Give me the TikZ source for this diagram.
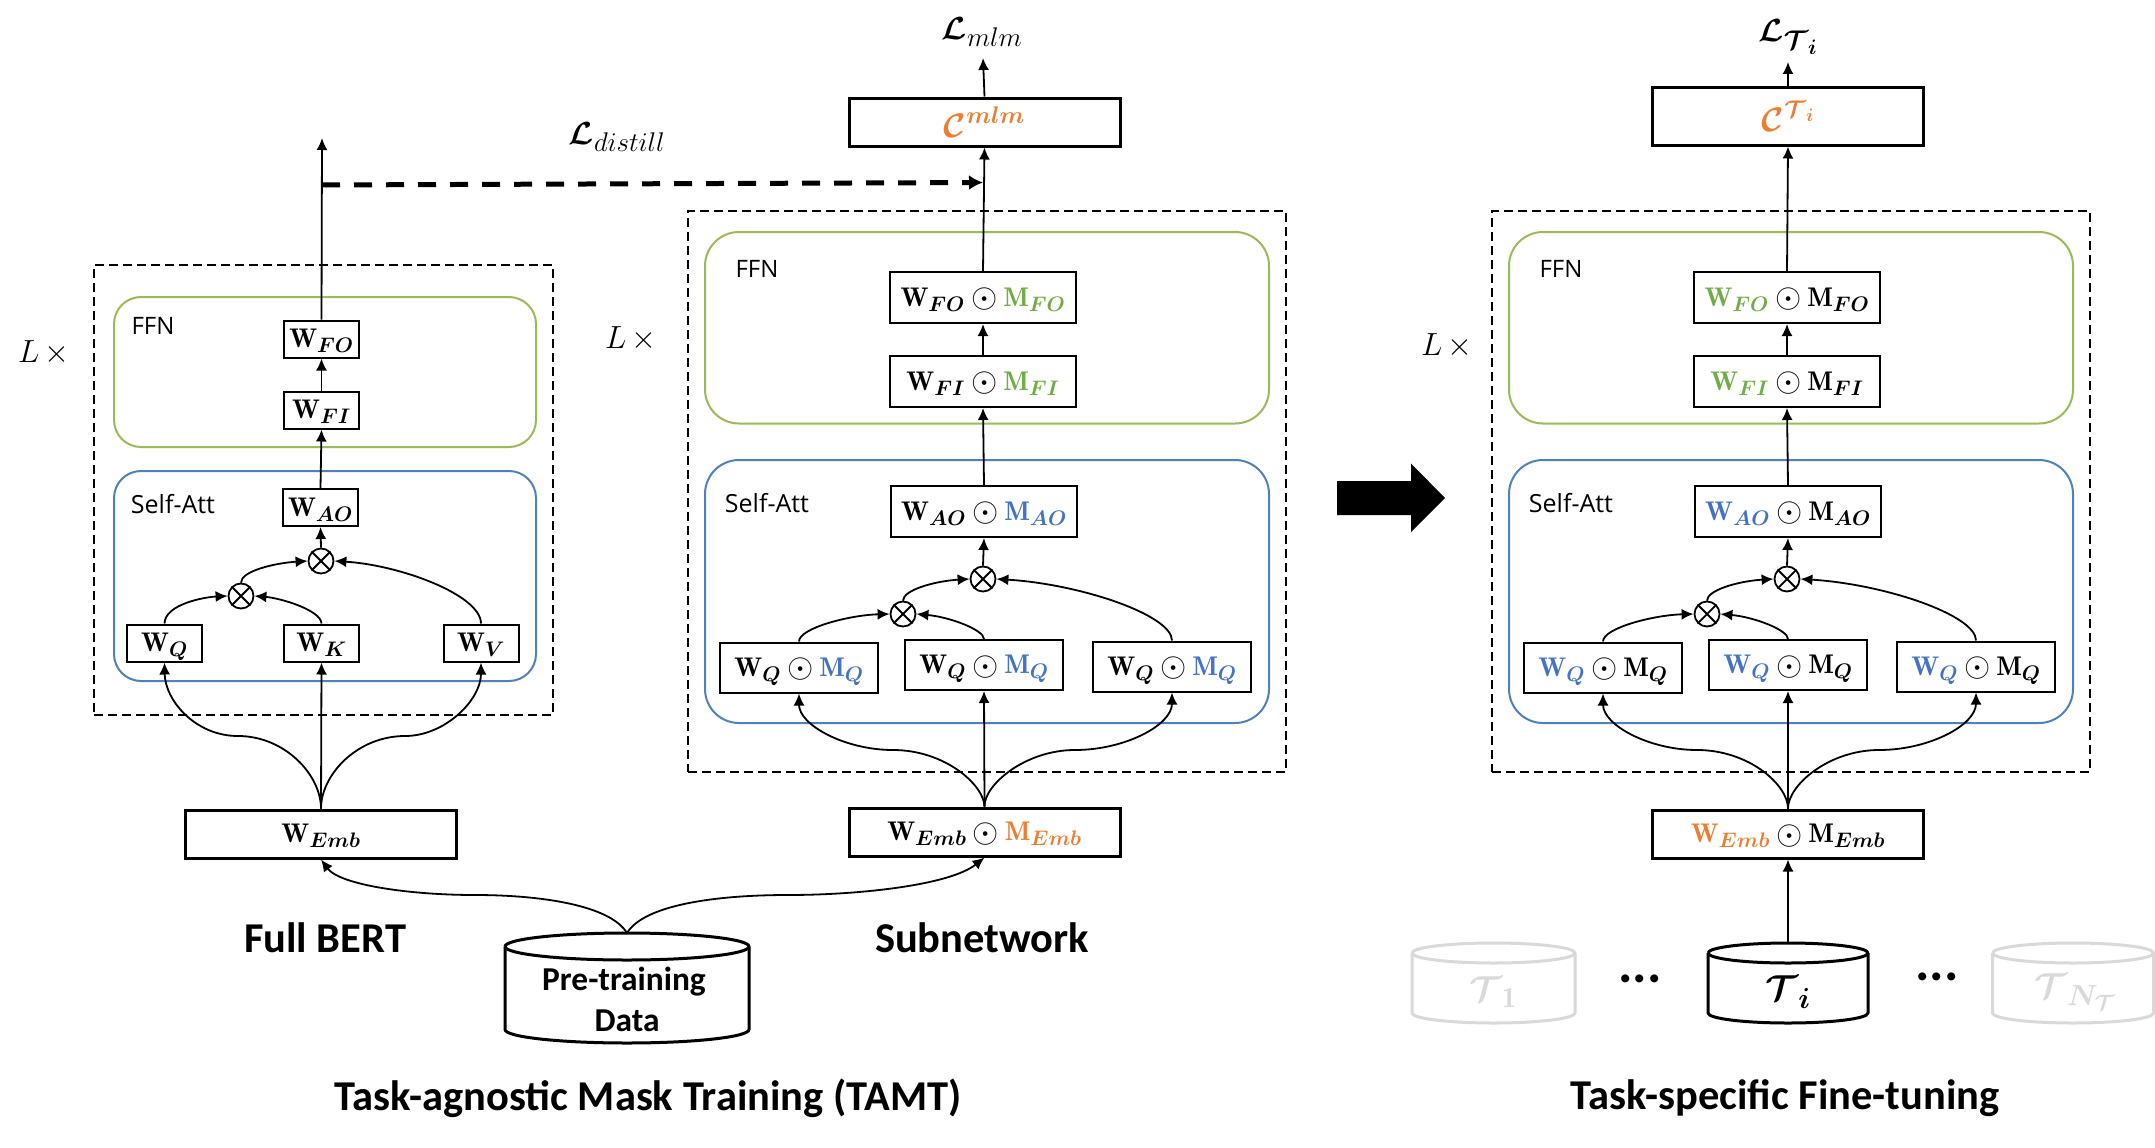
\RequirePackage{fix-cm}
\documentclass[tikz,border=0pt]{standalone}
\usepackage{graphicx}
\usepackage{amsmath,bm}
\usepackage{fontspec}
\usetikzlibrary{arrows.meta}
\newfontfamily\labfont{Open Sans}
\newfontfamily\titlefont{Carlito}[BoldFont={Carlito Bold}]
\DeclareMathSizes{27}{27}{21}{16}
\DeclareMathSizes{34}{34}{24}{18}
\DeclareMathSizes{32}{32}{27}{21}
\DeclareMathSizes{36}{36}{29}{22}
\definecolor{cOr}{HTML}{ED7D31}
\definecolor{cBl}{HTML}{4472C4}
\definecolor{cGr}{HTML}{70AD47}
\definecolor{fGr}{HTML}{9BBB59}
\definecolor{fBl}{HTML}{4F81BD}
\definecolor{cGy}{HTML}{D9D9D9}
\newcommand\fs[1]{\fontsize{#1}{#1}\selectfont}
\newcommand\odt{\mathbin{\vcenter{\hbox{\scalebox{1.25}{$\odot$}}}}}
\newcommand\wmtxt[3]{\raisebox{-8.5pt}[10pt][10pt]{$\textcolor{#1}{\mathbf{W}_{\bm{#3}}}\odt\textcolor{#2}{\mathbf{M}_{\bm{#3}}}$}}
\newcommand\wtxt[1]{\raisebox{-8.5pt}[10pt][10pt]{$\mathbf{W}_{\bm{#1}}$}}
\newcommand\crossout[1]{\draw[thinln] (#1.45) -- (#1.225) (#1.135) -- (#1.315);}
\tikzset{
  thinln/.style={line width=1.8pt,black},
  arr/.style={thinln,-{Latex[length=12pt,width=11pt]}},
  wbox/.style={draw,line width=2pt,inner sep=0pt,font=\fs{27},align=center},
  sbox/.style={wbox,minimum width=75pt,minimum height=37pt},
  mbox/.style={wbox,minimum width=186pt,minimum height=51pt},
  qbox/.style={wbox,minimum width=158pt,minimum height=50pt},
  bigbox/.style={wbox,line width=3pt,minimum width=271pt},
  ttlbox/.style={bigbox,font=\fs{34}},
  outer/.style={draw,line width=1.8pt,dash pattern=on 9pt off 5pt,inner sep=0pt},
  ffn/.style={draw=fGr,line width=2pt,rounded corners=34pt,inner sep=0pt},
  att/.style={draw=fBl,line width=2pt,rounded corners=34pt,inner sep=0pt},
  otim/.style={circle,draw,line width=1.8pt,minimum size=25pt,inner sep=0pt},
  lab/.style={font=\labfont\fs{24},inner sep=0pt},
  lab2/.style={font=\labfont\fs{25},inner sep=0pt},
  ttl/.style={font=\titlefont\bfseries\fs{42.5},inner sep=0pt},
  ttls/.style={font=\titlefont\bfseries\fs{33.4},inner sep=0pt},
  lx/.style={font=\fs{32},inner sep=0pt},
  lss/.style={font=\fs{32},inner sep=0pt},
  dots/.style={font=\titlefont\bfseries\fs{54},inner sep=0pt},
  dist/.style={line width=5pt,dash pattern=on 18pt off 14pt,-{Latex[length=14pt,width=15pt]}},
  fat/.style={fill=black,draw=none},
  cyl/.style={line width=#1,line join=round},
}
\newcommand\cylinder[6]{% cx, top, bottom, rx, ry, style
  \draw[#6] (#1-#4,#2+#5) arc[start angle=180,end angle=-180,x radius=#4,y radius=#5];
  \draw[#6] (#1-#4,#2+#5) -- (#1-#4,#3-#5) arc[start angle=180,end angle=360,x radius=#4,y radius=-#5] -- (#1+#4,#2+#5);
}
% panel: prefix, shift, Wgreen, Mgreen, Wblue, Mblue
\newcommand\panel[6]{%
\begin{scope}[xshift=#2pt]
  \node[outer,minimum width=598pt,minimum height=561pt] (#1out) at (987,491.5) {};
  \node[ffn,minimum width=564pt,minimum height=191.5pt] (#1ffn) at (987,327.75) {};
  \node[att,minimum width=564pt,minimum height=263pt] (#1att) at (987,591.5) {};
  \node[lab] at (757,269) {FFN};
  \node[lab2] at (767,503) {Self-Att};
  \node[mbox] (#1fo) at (983,297.5) {\wmtxt{#3}{#4}{FO}};
  \node[mbox] (#1fi) at (983,381.5) {\wmtxt{#3}{#4}{FI}};
  \node[mbox] (#1ao) at (984,511.5) {\wmtxt{#5}{#6}{AO}};
  \node[otim] (#1ota) at (983,579) {};
  \node[otim] (#1otb) at (903,614) {};
  \crossout{#1ota}\crossout{#1otb}
  \node[qbox] (#1qa) at (799,667.5) {\wmtxt{#5}{#6}{Q}};
  \node[qbox] (#1qb) at (984,665) {\wmtxt{#5}{#6}{Q}};
  \node[qbox] (#1qc) at (1172,666.5) {\wmtxt{#5}{#6}{Q}};
  \coordinate (#1sa) at (893,750);
  \coordinate (#1sc) at (1075,750);
  \draw[arr] (#1fi.north) -- (#1fo.south);
  \draw[arr] (#1ao.north) -- (#1fi.south);
  \draw[arr] (#1ota.north) -- (#1ao.south);
  \draw[arr] (#1qa.north) .. controls (799,628) and (850,615) .. (#1otb.west);
  \draw[arr] (#1qb.north) .. controls (984,630) and (950,617) .. (#1otb.east);
  \draw[arr] (#1otb.north) .. controls (903,590) and (935,581) .. (#1ota.west);
  \draw[arr] (#1qc.north) .. controls (1172,615) and (1080,584) .. (#1ota.east);
  \draw[arr] (#1emb.north) .. controls (984,785) and (945,750) .. (#1sa) .. controls (845,750) and (799,725) .. (#1qa.south);
  \draw[arr] (#1emb.north) -- (#1qb.south);
  \draw[arr] (#1emb.north) .. controls (984,785) and (1025,750) .. (#1sc) .. controls (1125,750) and (1172,725) .. (#1qc.south);
\end{scope}}
\begin{document}
\begin{tikzpicture}[x=1pt,y=-1pt]
\useasboundingbox (0,0) rectangle (2155,1148);
\fill[white] (0,0) rectangle (2155,1148);

% ---- left panel
\node[outer,minimum width=459pt,minimum height=450pt] (lout) at (323.5,490) {};
\node[ffn,rounded corners=27pt,minimum width=422pt,minimum height=150pt] (lffn) at (325,372) {};
\node[att,rounded corners=27pt,minimum width=422pt,minimum height=210pt] (latt) at (325,576) {};
\node[lab] at (153,326) {FFN};
\node[lab2] at (173,504) {Self-Att};
\node[sbox] (lfo) at (321.5,339) {\wtxt{FO}};
\node[sbox] (lfi) at (321.5,410) {\wtxt{FI}};
\node[sbox] (lao) at (320.5,507.5) {\wtxt{AO}};
\node[otim] (lota) at (321,561) {};
\node[otim] (lotb) at (241,596) {};
\crossout{lota}\crossout{lotb}
\node[sbox] (lq) at (164.5,643) {\wtxt{Q}};
\node[sbox] (lk) at (321.5,643) {\wtxt{K}};
\node[sbox] (lv) at (481,643) {\wtxt{V}};
\node[bigbox,minimum height=48pt] (lemb) at (321,834) {\wtxt{Emb}};
\coordinate (ltop) at (322,138);
\coordinate (dashS) at (322,185);
\coordinate (dashE) at (983,182.5);
\coordinate (lsa) at (238,736);
\coordinate (lsc) at (405,736);
\draw[thinln,-{Latex[length=12pt,width=11pt]}] (lfo.north) -- (ltop);
\draw[arr] (lfi.north) -- (lfo.south);
\draw[arr] (lao.north) -- (lfi.south);
\draw[arr] (lota.north) -- (lao.south);
\draw[arr] (lq.north) .. controls (165,604) and (205,597) .. (lotb.west);
\draw[arr] (lk.north) .. controls (321,610) and (280,598) .. (lotb.east);
\draw[arr] (lotb.north) .. controls (241,571) and (275,563) .. (lota.west);
\draw[arr] (lv.north) .. controls (481,595) and (400,565) .. (lota.east);
\draw[arr] (lemb.north) .. controls (321,775) and (285,736) .. (lsa) .. controls (195,736) and (165,700) .. (lq.south);
\draw[arr] (lemb.north) -- (lk.south);
\draw[arr] (lemb.north) .. controls (321,775) and (357,736) .. (lsc) .. controls (445,736) and (481,700) .. (lv.south);

\node[lx] at (44,353) {$L\,{\times}$};
\node[lss] at (617,137) {$\bm{\mathcal{L}}_{distill}$};

% ---- middle panel
\node[bigbox,minimum height=48pt] (memb) at (984.5,832) {\wmtxt{black}{cOr}{Emb}};
\node[ttlbox,minimum height=48pt] (mc) at (984.5,122) {\textcolor{cOr}{$\bm{\mathcal{C}}^{\bm{mlm}}$}};
\panel{m}{0}{black}{cGr}{black}{cBl}
\coordinate (mtop) at (983,58);
\draw[arr] (mc.north) -- (mtop);
\draw[arr] (mfo.north) -- (mc.south);
\draw[dist] (dashS) -- (dashE);
\node[lx] at (631,339) {$L\,{\times}$};
\node[lss] at (982,32) {$\bm{\mathcal{L}}_{mlm}$};

% ---- fat arrow
\fill[fat] (1337,481) -- (1411,481) -- (1411,463.5) -- (1445,498) -- (1411,532) -- (1411,515) -- (1337,515) -- cycle;

% ---- right panel
\node[bigbox,minimum height=48pt] (remb) at (1788,834) {\wmtxt{cOr}{black}{Emb}};
\node[ttlbox,minimum height=58pt] (rc) at (1788,116) {\textcolor{cOr}{$\bm{\mathcal{C}}^{\bm{\mathcal{T}_i}}$}};
\panel{r}{804}{cGr}{black}{cBl}{black}
\coordinate (rtop) at (1788,62);
\draw[arr] (rc.north) -- (rtop);
\draw[arr] (rfo.north) -- (rc.south);
\node[lx] at (1447,346) {$L\,{\times}$};
\node[lss] at (1788,37) {$\bm{\mathcal{L}}_{\bm{\mathcal{T}_i}}$};

% ---- data
\cylinder{627}{933}{1043}{122}{13.5}{cyl=3pt}
\coordinate (pre) at (627,933);
\draw[arr] (pre) .. controls (610,905) and (540,895) .. (475,895) .. controls (410,895) and (340,885) .. (lemb.south);
\draw[arr] (pre) .. controls (644,905) and (715,895) .. (788,895) .. controls (860,895) and (950,885) .. (memb.south);
\node[ttls] at (624,982) {Pre-training};
\node[ttls] at (627,1021) {Data};
\node[ttl] at (325,938) {Full BERT};
\node[ttl] at (982,938) {Subnetwork};
\node[ttl] at (648,1098) {Task-agnostic Mask Training (TAMT)};
\node[ttl] at (1785,1098) {Task-specific Fine-tuning};

\cylinder{1493.5}{943}{1023}{81.5}{10}{cyl=3pt,cGy}
\cylinder{1788}{943}{1023}{80}{10}{cyl=3pt}
\cylinder{2073}{943}{1023}{80.5}{10}{cyl=3pt,cGy}
\coordinate (ti) at (1788,943);
\draw[arr] (ti) -- (remb.south);
\node[font=\fs{36},inner sep=0pt,text=cGy] at (1493,992) {$\bm{\mathcal{T}}_{\mathbf{1}}$};
\node[font=\fs{36},inner sep=0pt] at (1788,992) {$\bm{\mathcal{T}_i}$};
\node[font=\fs{36},inner sep=0pt,text=cGy] at (2075,992) {$\bm{\mathcal{T}}_{\bm{N_{\mathcal{T}}}}$};
\node[dots] at (1640,979) {...};
\node[dots] at (1937,977) {...};
\end{tikzpicture}
\end{document}
